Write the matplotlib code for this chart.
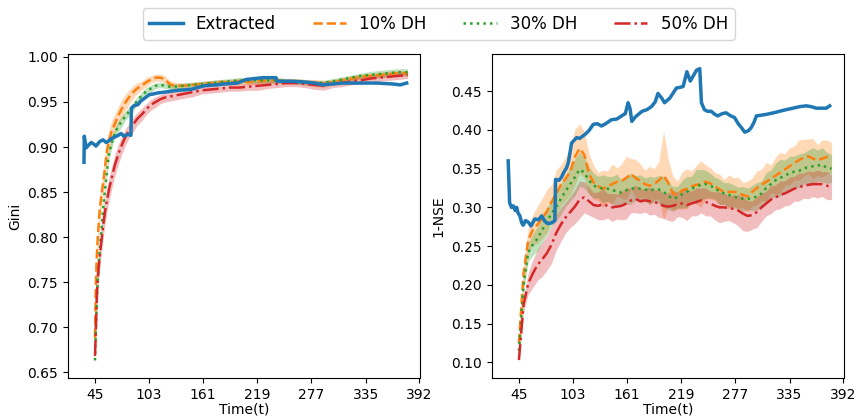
import matplotlib
matplotlib.use("Agg")
import matplotlib.pyplot as plt
import numpy as np

# ---- data ----
labels = ["Extracted", "10% DH", "30% DH", "50% DH"]
xtick_vals = [45, 103, 161, 219, 277, 335, 392]

# Gini panel
gini_ext_t = [33.2, 33.5, 35.5, 38, 41, 44, 46, 50, 53.6, 57, 60, 62, 66, 70, 73, 76, 80, 83.5,
              84, 87, 91, 94, 98, 103, 108, 112, 120, 134, 148, 162, 175, 184, 198, 207, 216,
              225, 239, 240, 255, 271, 280, 289, 300, 310, 330, 347, 364, 372, 379]
gini_ext = [0.883, 0.912, 0.899, 0.902, 0.905, 0.903, 0.901, 0.906, 0.908, 0.905, 0.907, 0.909,
            0.911, 0.913, 0.915, 0.912, 0.914, 0.913,
            0.943, 0.946, 0.947, 0.951, 0.954, 0.958, 0.959, 0.960, 0.961, 0.963, 0.964, 0.968,
            0.969, 0.970, 0.971, 0.975, 0.976, 0.977, 0.977, 0.973, 0.973, 0.972, 0.971, 0.969,
            0.970, 0.971, 0.971, 0.971, 0.970, 0.969, 0.971]

gini_t = [45, 46, 47, 48, 49, 50, 52, 54, 56, 58, 60, 63, 66, 70, 74, 78, 82, 86, 90,
          95, 100, 105, 110, 115, 120, 125, 130, 140, 150, 160, 170, 180, 190, 200, 210,
          220, 230, 240, 250, 260, 270, 280, 290, 300, 310, 320, 330, 340, 350, 360, 370, 380]
gini_dh10 = [0.688, 0.750, 0.780, 0.800, 0.815, 0.830, 0.848, 0.862, 0.880, 0.897, 0.907,
             0.918, 0.925, 0.935, 0.943, 0.950, 0.956, 0.961, 0.965, 0.968, 0.972, 0.975,
             0.977, 0.977, 0.975, 0.970, 0.968, 0.968, 0.969, 0.970, 0.971, 0.972, 0.972,
             0.973, 0.972, 0.973, 0.974, 0.974, 0.973, 0.973, 0.972, 0.971, 0.970, 0.972,
             0.974, 0.976, 0.978, 0.979, 0.980, 0.981, 0.982, 0.982]
gini_dh30 = [0.663, 0.700, 0.730, 0.755, 0.770, 0.785, 0.810, 0.835, 0.855, 0.875, 0.893,
             0.905, 0.915, 0.923, 0.929, 0.935, 0.940, 0.945, 0.951, 0.957, 0.962, 0.965,
             0.968, 0.969, 0.968, 0.967, 0.967, 0.968, 0.969, 0.970, 0.971, 0.972, 0.973,
             0.974, 0.974, 0.974, 0.974, 0.974, 0.973, 0.973, 0.972, 0.971, 0.971, 0.973,
             0.975, 0.977, 0.979, 0.980, 0.981, 0.982, 0.983, 0.983]
gini_dh50 = [0.668, 0.700, 0.735, 0.755, 0.767, 0.778, 0.797, 0.815, 0.830, 0.842, 0.853,
             0.866, 0.879, 0.892, 0.903, 0.912, 0.919, 0.925, 0.931, 0.936, 0.942, 0.947,
             0.950, 0.953, 0.955, 0.956, 0.957, 0.959, 0.961, 0.963, 0.964, 0.965, 0.966,
             0.966, 0.967, 0.968, 0.969, 0.970, 0.971, 0.971, 0.970, 0.969, 0.968, 0.970,
             0.971, 0.973, 0.974, 0.976, 0.977, 0.978, 0.979, 0.980]
gini_sd10 = [0.004, 0.008, 0.010, 0.012, 0.012, 0.013, 0.013, 0.014, 0.014, 0.013, 0.012,
             0.012, 0.011, 0.010, 0.010, 0.009, 0.008, 0.007, 0.006, 0.005, 0.005, 0.004,
             0.004, 0.004, 0.004, 0.004, 0.004, 0.003, 0.003, 0.003, 0.003, 0.003, 0.003,
             0.004, 0.003, 0.003, 0.003, 0.003, 0.003, 0.003, 0.003, 0.004, 0.004, 0.003,
             0.003, 0.003, 0.003, 0.003, 0.003, 0.003, 0.003, 0.003]
gini_sd30 = [0.003, 0.005, 0.006, 0.006, 0.006, 0.006, 0.006, 0.006, 0.006, 0.006, 0.006,
             0.006, 0.006, 0.006, 0.006, 0.005, 0.005, 0.005, 0.004, 0.004, 0.004, 0.004,
             0.003, 0.003, 0.003, 0.003, 0.003, 0.003, 0.003, 0.003, 0.003, 0.003, 0.003,
             0.003, 0.003, 0.003, 0.003, 0.003, 0.003, 0.003, 0.003, 0.003, 0.003, 0.003,
             0.003, 0.003, 0.003, 0.004, 0.004, 0.004, 0.004, 0.004]
gini_sd50 = [0.004, 0.008, 0.010, 0.012, 0.012, 0.013, 0.014, 0.014, 0.014, 0.013, 0.013,
             0.012, 0.012, 0.011, 0.010, 0.009, 0.008, 0.008, 0.007, 0.007, 0.006, 0.006,
             0.006, 0.005, 0.005, 0.005, 0.005, 0.005, 0.005, 0.004, 0.004, 0.004, 0.004,
             0.004, 0.004, 0.005, 0.004, 0.004, 0.004, 0.004, 0.004, 0.005, 0.005, 0.004,
             0.004, 0.004, 0.004, 0.004, 0.004, 0.004, 0.004, 0.004]

# 1-NSE panel
nse_ext_t = [33.5, 34.5, 35, 37, 39, 41, 42.6, 44, 46, 48, 49.6, 52, 55, 58, 62, 66, 69.3,
             72.8, 76, 80, 83.5, 84.3, 88, 90.7, 93, 96, 98, 101.4, 106.8, 110, 115.7, 120,
             124.6, 129, 133.5, 138, 144, 150, 155, 159, 162, 164, 166, 170, 177, 182, 187,
             191, 194, 198, 201, 206.7, 213.8, 218, 221, 225, 228.6, 232, 235.3, 238.8,
             240.6, 243.8, 247, 251, 255, 258, 263, 267, 272, 276, 280, 283.4, 287, 291,
             294, 297, 299.5, 305, 310, 318, 324.4, 331, 338.7, 346, 353, 358, 363.7, 369,
             374.5, 378]
nse_ext = [0.360, 0.325, 0.306, 0.300, 0.302, 0.296, 0.300, 0.293, 0.289, 0.280, 0.277,
           0.283, 0.281, 0.276, 0.285, 0.284, 0.289, 0.282, 0.279, 0.280, 0.283, 0.336,
           0.335, 0.339, 0.345, 0.351, 0.358, 0.383, 0.390, 0.389, 0.394, 0.399, 0.407,
           0.408, 0.405, 0.408, 0.413, 0.414, 0.418, 0.421, 0.435, 0.428, 0.411, 0.417,
           0.424, 0.426, 0.430, 0.436, 0.447, 0.441, 0.435, 0.441, 0.454, 0.455, 0.456,
           0.475, 0.463, 0.470, 0.477, 0.479, 0.435, 0.426, 0.424, 0.424, 0.420, 0.418,
           0.421, 0.422, 0.418, 0.416, 0.408, 0.403, 0.397, 0.399, 0.403, 0.410, 0.418,
           0.419, 0.420, 0.422, 0.424, 0.426, 0.428, 0.430, 0.431, 0.430, 0.428, 0.428,
           0.428, 0.431]

nse_t = list(range(45, 381, 5))
nse_dh10 = [0.125, 0.215, 0.258, 0.271, 0.278, 0.286, 0.295, 0.307, 0.318, 0.329,
            0.337, 0.346, 0.365, 0.376, 0.368, 0.344, 0.332, 0.327, 0.324, 0.327,
            0.330, 0.333, 0.334, 0.338, 0.343, 0.338, 0.334, 0.330, 0.328, 0.330,
            0.335, 0.341, 0.332, 0.318, 0.316, 0.322, 0.324, 0.327, 0.329, 0.330,
            0.333, 0.331, 0.327, 0.323, 0.320, 0.320, 0.320, 0.319, 0.316, 0.314,
            0.320, 0.325, 0.329, 0.333, 0.337, 0.341, 0.345, 0.349, 0.353, 0.357,
            0.361, 0.364, 0.366, 0.363, 0.361, 0.363, 0.365, 0.364]
nse_dh30 = [0.115, 0.200, 0.242, 0.252, 0.260, 0.271, 0.282, 0.292, 0.301, 0.311,
            0.321, 0.330, 0.339, 0.349, 0.345, 0.335, 0.328, 0.326, 0.324, 0.324,
            0.322, 0.321, 0.319, 0.322, 0.324, 0.325, 0.324, 0.323, 0.322, 0.323,
            0.323, 0.320, 0.315, 0.311, 0.313, 0.317, 0.320, 0.324, 0.327, 0.329,
            0.330, 0.328, 0.325, 0.320, 0.318, 0.316, 0.314, 0.312, 0.311, 0.311,
            0.312, 0.314, 0.318, 0.325, 0.330, 0.335, 0.338, 0.341, 0.344, 0.346,
            0.347, 0.350, 0.352, 0.353, 0.354, 0.355, 0.351, 0.350]
nse_dh50 = [0.103, 0.175, 0.202, 0.215, 0.226, 0.233, 0.241, 0.252, 0.267, 0.278,
            0.287, 0.294, 0.301, 0.310, 0.313, 0.308, 0.303, 0.302, 0.304, 0.302,
            0.300, 0.301, 0.302, 0.305, 0.309, 0.311, 0.308, 0.309, 0.308, 0.307,
            0.305, 0.302, 0.301, 0.302, 0.304, 0.305, 0.303, 0.305, 0.307, 0.309,
            0.307, 0.305, 0.302, 0.300, 0.300, 0.299, 0.298, 0.296, 0.292, 0.289,
            0.290, 0.294, 0.300, 0.305, 0.310, 0.313, 0.316, 0.318, 0.321, 0.324,
            0.326, 0.328, 0.329, 0.330, 0.330, 0.330, 0.328, 0.326]
nse_sd10 = [0.006, 0.012, 0.016, 0.020, 0.024, 0.026, 0.028, 0.022, 0.030, 0.026,
            0.028, 0.030, 0.036, 0.032, 0.030, 0.026, 0.022, 0.018, 0.024, 0.020,
            0.026, 0.018, 0.022, 0.028, 0.020, 0.024, 0.022, 0.018, 0.025, 0.020,
            0.024, 0.058, 0.030, 0.022, 0.018, 0.024, 0.026, 0.020, 0.025, 0.030,
            0.022, 0.020, 0.018, 0.020, 0.016, 0.022, 0.018, 0.020, 0.016, 0.020,
            0.018, 0.022, 0.020, 0.025, 0.018, 0.024, 0.026, 0.020, 0.024, 0.022,
            0.026, 0.024, 0.022, 0.026, 0.020, 0.024, 0.022, 0.020]
nse_sd30 = [0.005, 0.010, 0.012, 0.014, 0.016, 0.016, 0.018, 0.016, 0.018, 0.020,
            0.020, 0.022, 0.024, 0.022, 0.020, 0.018, 0.016, 0.014, 0.018, 0.016,
            0.018, 0.022, 0.016, 0.018, 0.020, 0.016, 0.018, 0.015, 0.018, 0.016,
            0.018, 0.020, 0.018, 0.016, 0.014, 0.018, 0.020, 0.016, 0.022, 0.020,
            0.018, 0.016, 0.014, 0.016, 0.014, 0.016, 0.015, 0.014, 0.016, 0.014,
            0.016, 0.018, 0.016, 0.020, 0.018, 0.022, 0.024, 0.020, 0.022, 0.020,
            0.022, 0.020, 0.022, 0.024, 0.020, 0.022, 0.020, 0.018]
nse_sd50 = [0.004, 0.010, 0.014, 0.018, 0.020, 0.022, 0.022, 0.024, 0.022, 0.022,
            0.020, 0.020, 0.022, 0.024, 0.020, 0.018, 0.016, 0.018, 0.020, 0.016,
            0.018, 0.016, 0.018, 0.020, 0.016, 0.018, 0.016, 0.015, 0.018, 0.016,
            0.018, 0.016, 0.018, 0.020, 0.016, 0.018, 0.020, 0.016, 0.018, 0.016,
            0.018, 0.016, 0.018, 0.020, 0.018, 0.016, 0.018, 0.020, 0.022, 0.020,
            0.018, 0.020, 0.018, 0.016, 0.018, 0.016, 0.018, 0.016, 0.018, 0.016,
            0.018, 0.016, 0.018, 0.016, 0.018, 0.016, 0.018, 0.016]

colors = ["tab:blue", "tab:orange", "tab:green", "tab:red"]
styles = ["-", "--", ":", "-."]

fig, axes = plt.subplots(1, 2, figsize=(8.6, 4.18), dpi=100)
fig.subplots_adjust(left=0.079, right=0.981, bottom=0.096, top=0.871, wspace=0.205)

panels = [
    (axes[0], "Gini", gini_ext_t, gini_ext, gini_t,
     [gini_dh10, gini_dh30, gini_dh50], [gini_sd10, gini_sd30, gini_sd50]),
    (axes[1], "1-NSE", nse_ext_t, nse_ext, nse_t,
     [nse_dh10, nse_dh30, nse_dh50], [nse_sd10, nse_sd30, nse_sd50]),
]

handles = []
for ax, ylab, et, ev, t, means, sds in panels:
    t = np.array(t)
    hs = []
    for m, s, col, ls, lab in zip(means, sds, colors[1:], styles[1:], labels[1:]):
        m = np.array(m)
        s = np.array(s)
        ax.fill_between(t, m - s, m + s, color=col, alpha=0.3, linewidth=0)
        h, = ax.plot(t, m, ls, color=col, lw=1.8, label=lab)
        hs.append(h)
    h0, = ax.plot(et, ev, "-", color=colors[0], lw=2.5, label=labels[0], zorder=5)
    handles = [h0] + hs
    ax.set_ylabel(ylab)
    ax.set_xlabel("Time(t)", labelpad=1)
    ax.set_xticks(xtick_vals)
    ax.set_xlim(16, 393)

axes[0].set_yticks(np.arange(0.65, 1.001, 0.05))
axes[1].set_yticks(np.arange(0.10, 0.451, 0.05))

fig.legend(handles, labels, loc="upper center", bbox_to_anchor=(0.51, 1.0),
           ncol=4, fontsize=12, columnspacing=2.2)

fig.savefig("out.png", dpi=100)
